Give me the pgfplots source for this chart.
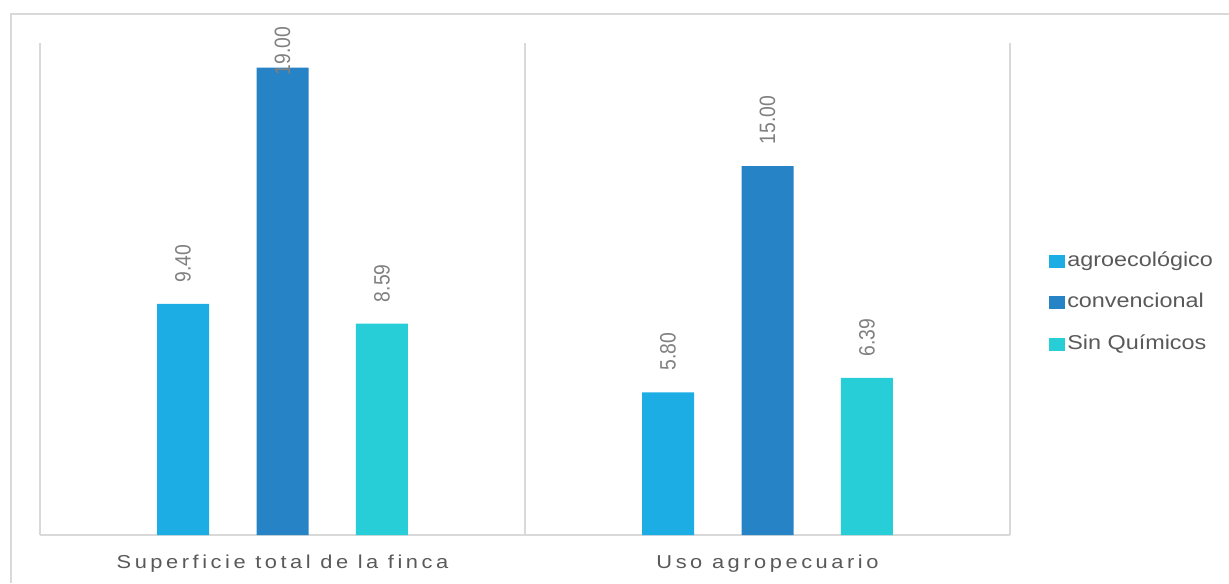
\documentclass[border=0pt]{standalone}
\usepackage{fontspec}
\setmainfont{Liberation Sans}[FakeStretch=1.17]
\newfontfamily\labfont{Liberation Sans}
\newfontfamily\axfont{Liberation Sans}[FakeStretch=1.17, LetterSpace=19]
\usepackage{pgfplots}
\usepackage{pgfplotstable}
\pgfplotsset{compat=1.18}
\definecolor{cA}{HTML}{1CADE4}
\definecolor{cB}{HTML}{2683C6}
\definecolor{cC}{HTML}{27CED7}
\definecolor{gridc}{HTML}{D9D9D9}
\definecolor{txt}{HTML}{595959}
\definecolor{lab}{HTML}{808080}

\pgfplotstableread{
x y off
0 9.40 16
1 5.80 16
}\tA
\pgfplotstableread{
x y off
0 19.00 -6
1 15.00 16
}\tB
\pgfplotstableread{
x y off
0 8.59 16
1 6.39 16
}\tC

\begin{document}
\begin{tikzpicture}
\useasboundingbox (0,0) rectangle (921.75pt,437.25pt);
\draw[gridc, line width=1.2pt] (8.25pt,0) -- (8.25pt,426.75pt) -- (921.75pt,426.75pt);
\begin{axis}[
  at={(30pt,36pt)}, anchor=south west,
  scale only axis, width=727.5pt, height=369pt,
  xmin=-0.5, xmax=1.5, ymin=0, ymax=20,
  axis x line*=bottom, axis y line=none,
  x axis line style={gridc, line width=1pt, -},
  xtick={0,1},
  xticklabels={Superficie total de la finca, Uso agropecuario},
  xticklabel style={font=\axfont\fontsize{14}{14}\selectfont, text=txt, anchor=base, yshift=-24.75pt},
  major tick length=0pt,
  extra x ticks={-0.5,0.5,1.5}, extra x tick labels={},
  extra x tick style={grid=major, major grid style={gridc, line width=1pt}},
  ytick=\empty,
  ybar, bar width=39pt,
  clip=false,
  /pgf/number format/assume math mode=true,
  visualization depends on={\thisrow{off} \as \myoff},
  nodes near coords={\pgfmathprintnumber[fixed,fixed zerofill,precision=2,assume math mode=true]{\pgfplotspointmeta}},
  nodes near coords style={font=\labfont\fontsize{14.5}{14.5}\selectfont, text=lab, rotate=90, yscale=1.15, anchor=west, inner sep=0pt, xshift=\myoff pt},
  legend image code/.code={\fill[#1,draw=none] (0pt,-4.9pt) rectangle (12pt,4.9pt);},
  legend style={at={(1.0402,0.472)}, anchor=west, draw=none, fill=none,
    font=\fontsize{15}{15}\selectfont, text=txt, row sep=16.6pt, inner sep=0pt,
    nodes={text height=11pt, text depth=3.5pt, inner ysep=0pt, inner xsep=1.5pt}},
  legend cell align=left,
]
\addplot[fill=cA, draw=none, bar shift=-74.6pt] table[x=x,y=y]{\tA};
\addplot[fill=cB, draw=none, bar shift=0pt] table[x=x,y=y]{\tB};
\addplot[fill=cC, draw=none, bar shift=74.6pt] table[x=x,y=y]{\tC};
\legend{agroecológico, convencional, Sin Químicos}
\end{axis}
\end{tikzpicture}
\end{document}
